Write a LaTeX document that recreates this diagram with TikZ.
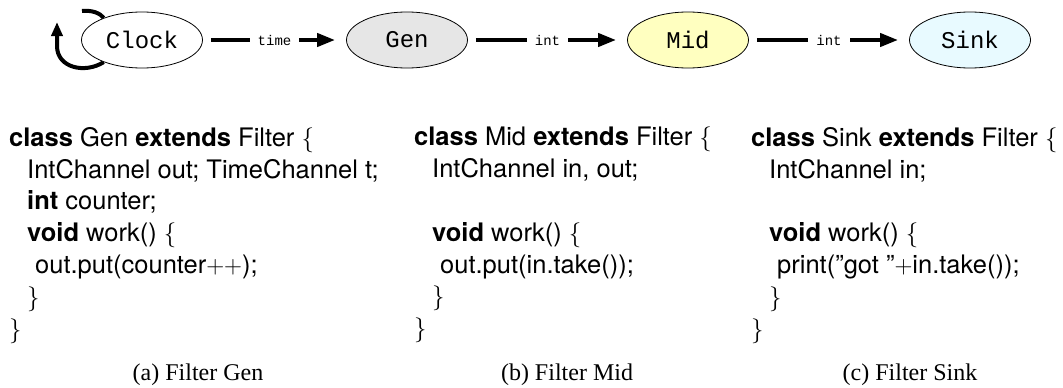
\documentclass[tikz,border=0pt]{standalone}
\usepackage[no-math]{fontspec}
\setmainfont{Liberation Serif}
\setsansfont{TeX Gyre Heros}
\setmonofont{Liberation Mono}
\usetikzlibrary{arrows.meta,shapes.geometric,backgrounds}
\definecolor{genfill}{HTML}{E6E6E6}
\definecolor{midfill}{HTML}{FFFFC0}
\definecolor{sinkfill}{HTML}{E8FAFF}
\begin{document}
\begin{tikzpicture}[x=1pt,y=-1pt,
  filter/.style={ellipse,draw,line width=0.8pt,minimum width=121pt,minimum height=56pt,
    inner sep=0pt,font=\ttfamily\fontsize{24}{24}\selectfont},
  flow/.style={line width=4pt,-{Triangle[length=18pt,width=13pt]},
    shorten <=8pt,shorten >=11pt},
  loopflow/.style={line width=4pt,-{Triangle[length=14pt,width=11pt]}},
  chan/.style={fill=white,font=\ttfamily\fontsize{14}{14}\selectfont,
    inner xsep=8pt,inner ysep=2pt},
  code/.style={anchor=north west,inner sep=0pt,align=left,
    font=\sffamily\fontsize{25.5}{31.8}\selectfont},
  subcap/.style={anchor=base,inner sep=0pt,font=\fontsize{24}{24}\selectfont}]
\useasboundingbox (0,0) rectangle (1063,388);

% stream graph
\node[filter,fill=white]    (clock) at (142,40) {Clock};
\node[filter,fill=genfill]  (gen)   at (407,40) {Gen};
\node[filter,fill=midfill]  (mid)   at (688,40) {Mid};
\node[filter,fill=sinkfill] (sink)  at (970,40) {Sink};

\draw[flow] (clock) -- node[chan] {time} (gen);
\draw[flow] (gen)   -- node[chan] {int}  (mid);
\draw[flow] (mid)   -- node[chan] {int}  (sink);

% self loop on the clock
\coordinate (looptip)  at (57,22);
\coordinate (looptail) at (82,11);
\begin{scope}[on background layer]
  \draw[loopflow] (clock.210) .. controls (85,74) and (57,68) .. (57,46) -- (looptip);
  \draw[line width=4pt] (looptail) .. controls (92,10) and (100,13) .. (clock.150);
\end{scope}

% filter sources
\node[code] (codea) at (9,127) {%
\textbf{class} Gen \textbf{extends} Filter $\{$\\
\hspace*{18pt}IntChannel out; TimeChannel t;\\
\hspace*{18pt}\textbf{int} counter;\\
\hspace*{18pt}\textbf{void} work() $\{$\\
\hspace*{26pt}out.put(counter$++$);\\
\hspace*{18pt}$\}$\\
$\}$};

\node[code] (codeb) at (414,127) {%
\textbf{class} Mid \textbf{extends} Filter $\{$\\
\hspace*{18pt}IntChannel in, out;\\
\mbox{}\\
\hspace*{18pt}\textbf{void} work() $\{$\\
\hspace*{26pt}out.put(in.take());\\
\hspace*{18pt}$\}$\\
$\}$};

\node[code] (codec) at (751,127) {%
\textbf{class} Sink \textbf{extends} Filter $\{$\\
\hspace*{18pt}IntChannel in;\\
\mbox{}\\
\hspace*{18pt}\textbf{void} work() $\{$\\
\hspace*{26pt}print(”got ”$+$in.take());\\
\hspace*{18pt}$\}$\\
$\}$};

% sub-captions
\node[subcap] (capa) at (198,380) {(a) Filter Gen};
\node[subcap] (capb) at (567,380) {(b) Filter Mid};
\node[subcap] (capc) at (910,380) {(c) Filter Sink};
\end{tikzpicture}
\end{document}
